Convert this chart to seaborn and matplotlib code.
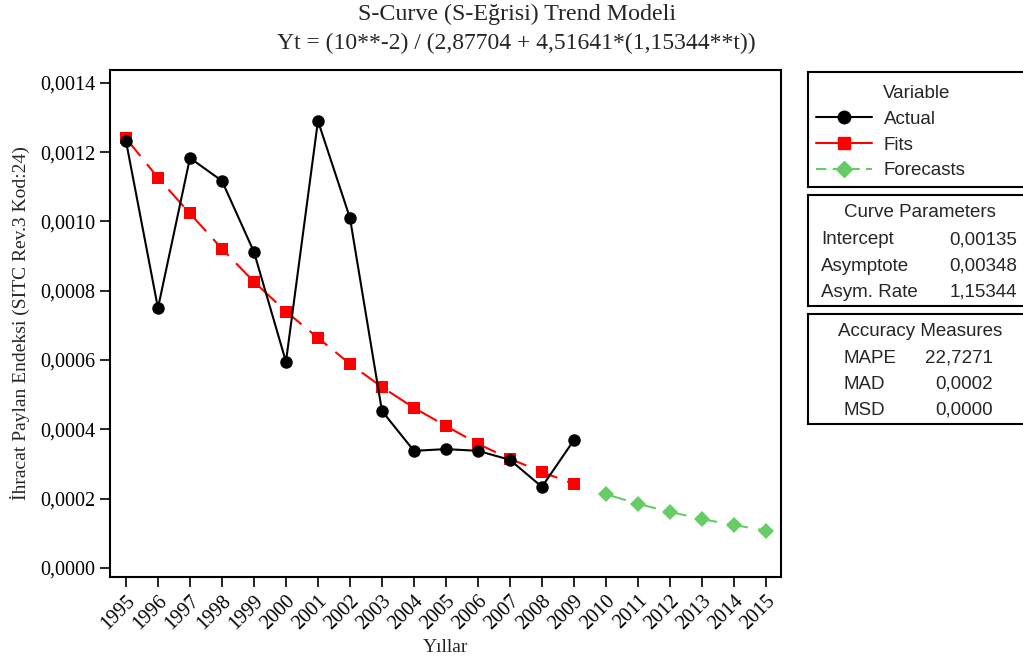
import seaborn as sns
import pandas as pd
import matplotlib.pyplot as plt
from matplotlib.ticker import FuncFormatter
from matplotlib.lines import Line2D

# data
years_obs = list(range(1995, 2010))
years_fc = list(range(2010, 2016))
actual = [0.001232, 0.000750, 0.001183, 0.001117, 0.000912, 0.000595, 0.001290,
          0.001010, 0.000453, 0.000338, 0.000343, 0.000338, 0.000312, 0.000234, 0.000369]
fits = [0.001240, 0.001126, 0.001023, 0.000921, 0.000826, 0.000740, 0.000664,
        0.000589, 0.000522, 0.000462, 0.000410, 0.000358, 0.000315, 0.000277, 0.000242]
forecasts = [0.000213, 0.000185, 0.000162, 0.000141, 0.000124, 0.000108]

curve_params = [("Intercept", "0,00135"), ("Asymptote", "0,00348"), ("Asym. Rate", "1,15344")]
accuracy = [("MAPE", "22,7271"), ("MAD", "0,0002"), ("MSD", "0,0000")]

sns.set_style("white")
plt.rcParams['font.family'] = ['Liberation Serif', 'DejaVu Serif']

df_act = pd.DataFrame({"Yil": years_obs, "val": actual})
df_fit = pd.DataFrame({"Yil": years_obs, "val": fits})
df_fc = pd.DataFrame({"Yil": years_fc, "val": forecasts})

fig = plt.figure(figsize=(10.23, 6.57), dpi=100)
ax = fig.add_axes([0.1075, 0.1218, 0.6559, 0.7717])

green = "#66CC66"
sns.lineplot(data=df_fit, x="Yil", y="val", ax=ax, color="red", lw=1.5,
             marker="s", markersize=8, markeredgewidth=0)
ax.lines[-1].set_dashes([11, 5])
sns.lineplot(data=df_fc, x="Yil", y="val", ax=ax, color=green, lw=1.5,
             marker="D", markersize=8, markeredgewidth=0)
ax.lines[-1].set_dashes([10, 5])
sns.lineplot(data=df_act, x="Yil", y="val", ax=ax, color="black", lw=1.5,
             marker="o", markersize=9, markeredgewidth=0)

ax.set_xlim(1994.5, 2015.47)
ax.set_ylim(-0.000026, 0.001437)
ax.set_xticks(years_obs + years_fc)
ax.set_xticklabels([str(y) for y in years_obs + years_fc], rotation=45,
                   ha="right", rotation_mode="anchor", fontsize=14.5)
ax.set_yticks([0, 0.0002, 0.0004, 0.0006, 0.0008, 0.0010, 0.0012, 0.0014])
ax.yaxis.set_major_formatter(FuncFormatter(lambda v, p: f"{v:.4f}".replace(".", ",")))
ax.tick_params(axis="both", direction="out", length=7, width=1.2, labelsize=14.5,
               bottom=True, left=True, colors="black")
for s in ax.spines.values():
    s.set_linewidth(1.5)
    s.set_color("black")

ax.set_xlabel("Yıllar", fontsize=14, labelpad=4)
ax.set_ylabel("İhracat Paylan Endeksi (SITC Rev.3 Kod:24)", fontsize=14, labelpad=7)

fig.text(0.505, 0.978, "S-Curve (S-Eğrisi) Trend Modeli", ha="center", va="center", fontsize=17.3)
fig.text(0.505, 0.934, "Yt = (10**-2) / (2,87704 + 4,51641*(1,15344**t))",
         ha="center", va="center", fontsize=17)

# side boxes
sans = ['Liberation Sans', 'DejaVu Sans']
fs = 13.5

def box(bottom, height):
    b = fig.add_axes([0.790, bottom, 0.23, height])
    b.set_xticks([])
    b.set_yticks([])
    b.set_xlim(0, 1)
    b.set_ylim(0, 1)
    for s in b.spines.values():
        s.set_linewidth(1.5)
        s.set_color("black")
    return b

b1 = box(0.7154, 0.175)
b1.text(0.319, 0.817, "Variable", ha="left", va="center", family=sans, fontsize=fs)
handles = [
    Line2D([], [], color="black", lw=1.5, marker="o", markersize=9),
    Line2D([], [], color="red", lw=1.5, marker="s", markersize=8),
    Line2D([], [], color=green, lw=1.5, ls=(0, (5, 3)), marker="D", markersize=8),
]
leg = b1.legend(handles, ["Actual", "Fits", "Forecasts"],
                loc="center left", bbox_to_anchor=(0.034, 0.365), frameon=False,
                prop={"family": sans, "size": fs}, handlelength=3.0,
                labelspacing=0.46, handletextpad=0.6, borderpad=0, borderaxespad=0)

b2 = box(0.5342, 0.169)
b2.text(0.477, 0.838, "Curve Parameters", ha="center", va="center", family=sans, fontsize=fs)
for i, (k, v) in enumerate(curve_params):
    y = 0.595 - i * 0.2345
    b2.text(0.055, y, k, ha="left", va="center", family=sans, fontsize=fs)
    b2.text(0.889, y, v, ha="right", va="center", family=sans, fontsize=fs)

b3 = box(0.3546, 0.1674)
b3.text(0.477, 0.845, "Accuracy Measures", ha="center", va="center", family=sans, fontsize=fs)
for i, (k, v) in enumerate(accuracy):
    y = 0.60 - i * 0.2365
    b3.text(0.149, y, k, ha="left", va="center", family=sans, fontsize=fs)
    b3.text(0.787, y, v, ha="right", va="center", family=sans, fontsize=fs)

fig.savefig("out.png", dpi=100)
